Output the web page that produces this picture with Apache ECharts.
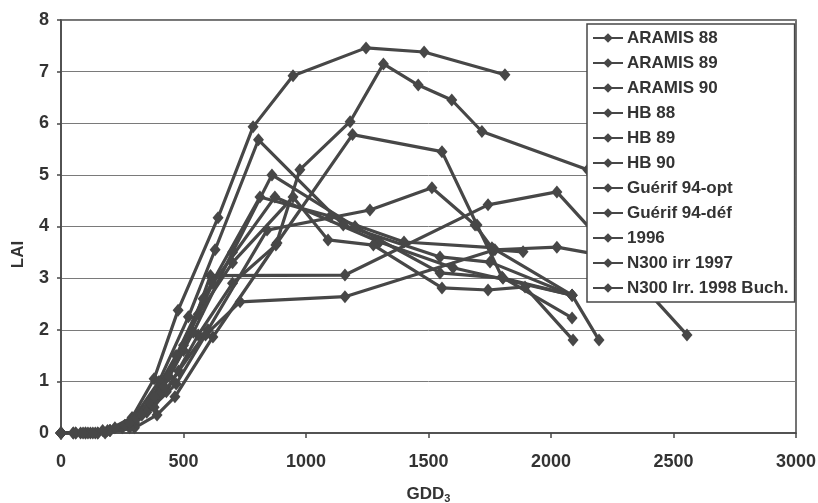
<!DOCTYPE html>
<html>
<head>
<meta charset="utf-8">
<script src="https://cdn.jsdelivr.net/npm/echarts@6/dist/echarts.min.js"></script>
<style>
  html, body { margin: 0; padding: 0; background: #fff; }
  #main { width: 818px; height: 503px; }
</style>
</head>
<body>
<div id="main"></div>
<script>
// LAI against GDD3, one [gdd, lai] list per trial
const seriesNames = ['ARAMIS 88', 'ARAMIS 89', 'ARAMIS 90', 'HB 88', 'HB 89', 'HB 90',
  'Guérif 94-opt', 'Guérif 94-déf', '1996', 'N300 irr 1997', 'N300 Irr. 1998 Buch.'];

const aramis88 = [[0,0],[60,0],[110,0],[190,0.05],[290,0.3],[380,1.05],[478,2.38],[641,4.17],[784,5.93],[947,6.92],[1245,7.46],[1482,7.38],[1812,6.94]];
const aramis89 = [[0,0],[100,0],[200,0.05],[300,0.2],[430,0.8],[560,1.9],[700,2.9],[877,3.64],[975,5.1],[1180,6.03],[1316,7.15],[1458,6.74],[1595,6.45],[1718,5.84],[2150,5.1]];
const aramis90 = [[0,0],[100,0],[200,0.05],[300,0.3],[400,0.75],[500,1.6],[610,3.05],[1159,3.06],[1743,4.42],[2024,4.67],[2555,1.9]];
const hb88 = [[0,0],[50,0],[150,0],[290,0.25],[400,1.0],[520,2.25],[629,3.55],[806,5.68],[1152,4.03],[1547,3.41],[1751,3.31],[2086,2.67]];
const hb89 = [[0,0],[180,0],[300,0.1],[392,0.35],[465,0.7],[620,1.86],[882,3.68],[1190,5.78],[1555,5.45],[1698,4.03],[1800,3.02],[2086,2.23]];
const hb90 = [[0,0],[80,0],[200,0.05],[300,0.25],[420,0.9],[540,1.95],[700,3.5],[861,5.0],[1200,4.0],[1547,3.1],[1804,3.0],[2086,2.67],[2196,1.8]];
const guerifOpt = [[0,0],[150,0],[280,0.1],[380,0.5],[480,1.2],[600,2.0],[841,3.93],[1261,4.32],[1514,4.75],[1690,4.03],[1765,3.55],[1886,3.51]];
const guerifDef = [[0,0],[120,0],[250,0.1],[350,0.4],[470,0.95],[590,1.9],[731,2.54],[1159,2.64],[1771,3.55],[2024,3.6],[2200,3.45]];
const y1996 = [[0,0],[60,0],[140,0],[260,0.15],[360,0.6],[470,1.5],[580,2.6],[812,4.57],[1100,4.2],[1400,3.7],[1759,3.59],[2086,2.67]];
const n300_1997 = [[0,0],[90,0],[170,0.05],[280,0.2],[380,0.7],[500,1.7],[620,2.9],[873,4.57],[1300,3.7],[1600,3.2],[2086,2.67]];
const n300_1998 = [[0,0],[50,0],[130,0],[220,0.1],[330,0.35],[440,1.1],[560,2.3],[700,3.3],[947,4.57],[1090,3.74],[1275,3.64],[1555,2.81],[1743,2.77],[1894,2.83],[2090,1.8]];

const allData = [aramis88, aramis89, aramis90, hb88, hb89, hb90, guerifOpt, guerifDef, y1996, n300_1997, n300_1998];

const ink = '#474747';
const font = 'Liberation Sans, Arial, sans-serif';

let myChart = echarts.init(document.getElementById('main'));

let option = {
  animation: false,
  backgroundColor: '#fff',
  grid: {
    left: 61,
    right: 22,
    top: 20,
    bottom: 70,
    containLabel: false,
    outerBoundsMode: 'none',
    show: true,
    borderColor: ink,
    borderWidth: 1.5
  },
  legend: {
    orient: 'vertical',
    left: 587,
    top: 24,
    data: seriesNames,
    backgroundColor: '#fff',
    borderColor: ink,
    borderWidth: 1.5,
    padding: [4, 6, 4, 5],
    itemWidth: 30,
    itemHeight: 12,
    itemGap: 5,
    textStyle: {
      fontFamily: font,
      fontSize: 17,
      fontWeight: 'bold',
      color: '#333',
      lineHeight: 20,
      padding: [0, 0, 0, -1]
    }
  },
  xAxis: {
    type: 'value',
    min: 0,
    max: 3000,
    interval: 500,
    name: 'GDD{s|3}',
    nameLocation: 'middle',
    nameGap: 52,
    nameTextStyle: {
      fontFamily: font,
      fontSize: 17,
      fontWeight: 'bold',
      color: '#333',
      rich: {
        s: { fontFamily: font, fontSize: 11, fontWeight: 'bold', color: '#333', padding: [8, 0, 0, 0] }
      }
    },
    axisLine: { lineStyle: { color: ink, width: 1.5 } },
    axisTick: { show: true, inside: false, length: 5, lineStyle: { color: ink, width: 1.5 } },
    axisLabel: {
      margin: 20,
      fontFamily: font,
      fontSize: 18,
      fontWeight: 'bold',
      color: '#333',
      formatter: v => String(v)
    },
    splitLine: { show: false }
  },
  yAxis: {
    type: 'value',
    min: 0,
    max: 8,
    interval: 1,
    name: 'LAI',
    nameLocation: 'middle',
    nameGap: 34,
    nameTextStyle: {
      fontFamily: font,
      fontSize: 17,
      fontWeight: 'bold',
      color: '#333',
      padding: [0, 56, 0, 0]
    },
    axisLine: { show: true, lineStyle: { color: ink, width: 1.5 } },
    axisTick: { show: true, inside: false, length: 4, lineStyle: { color: ink, width: 1.5 } },
    axisLabel: { margin: 12, fontFamily: font, fontSize: 18, fontWeight: 'bold', color: '#333' },
    splitLine: { show: true, lineStyle: { color: '#7a7a7a', width: 1 } }
  },
  series: seriesNames.map((name, i) => ({
    name: name,
    type: 'line',
    data: allData[i],
    symbol: 'diamond',
    symbolSize: [11, 13],
    showAllSymbol: true,
    itemStyle: { color: ink },
    lineStyle: { color: ink, width: 3.2 },
    emphasis: { disabled: true }
  }))
};

myChart.setOption(option);
</script>
</body>
</html>
